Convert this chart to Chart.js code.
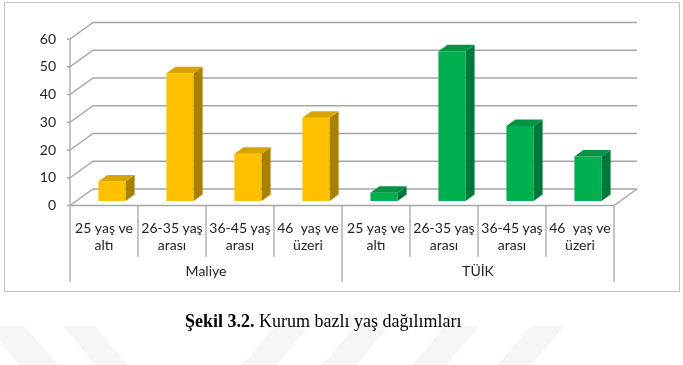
<!DOCTYPE html>
<html>
<head>
<meta charset="utf-8">
<script src="https://cdn.jsdelivr.net/npm/chart.js@4"></script>
<style>
  html, body { margin: 0; padding: 0; background: #fff; }
  #wrap { position: relative; width: 683px; height: 365px; overflow: hidden; }
  #frame { position: absolute; left: 4px; top: 2px; width: 676px; height: 290px; border: 1px solid #c4c4c4; box-sizing: border-box; }
  canvas { position: absolute; left: 0; top: 0; }
  .stripe { position: absolute; top: 326px; height: 60px; background: #f5f5f5; }
  #caption { position: absolute; left: 185px; top: 311px; white-space: nowrap; font: 18px "Liberation Serif", serif; color: #000; }
</style>
</head>
<body>
<div id="wrap">
  <div class="stripe" style="left:12px;width:38px;transform:skewX(40deg);"></div>
  <div class="stripe" style="left:88px;width:32px;transform:skewX(40deg);"></div>
  <div class="stripe" style="left:250px;width:34px;transform:skewX(-40deg);"></div>
  <div class="stripe" style="left:330px;width:34px;transform:skewX(-40deg);"></div>
  <div class="stripe" style="left:420px;width:34px;transform:skewX(-40deg);"></div>
  <div class="stripe" style="left:505px;width:34px;transform:skewX(-40deg);"></div>
  <div id="frame"></div>
  <canvas id="ageChart" width="683" height="365"></canvas>
  <div id="caption"><b>Şekil 3.2.</b> Kurum bazlı yaş dağılımları</div>
</div>
<script>
const ageGroups = [['25 yaş ve', 'altı'], ['26-35 yaş', 'arası'], ['36-45 yaş', 'arası'], ['46  yaş ve', 'üzeri']];
const institutions = ['Maliye', 'TÜİK'];
const maliyeValues = [7, 46, 17, 30];
const tuikValues = [3, 54, 27, 16];
const yTicks = [0, 10, 20, 30, 40, 50, 60];

const labels = institutions.flatMap(() => ageGroups);
const empty = ageGroups.map(() => null);

// 3d look: back wall offset, bar offset and bar depth
const DEPTH = { x: 23, y: -16.5 };
const BAR_SHIFT = { x: 8, y: -4.5 };
const BAR_DEPTH = { x: 9, y: -6.5 };
const shades = [
  { side: '#A98000', top: '#D9A400' },
  { side: '#00783A', top: '#009444' }
];
const lineColor = '#a6a6a6';
const textColor = '#222';

const threeD = {
  id: 'threeD',
  beforeDatasetsDraw(chart) {
    const ctx = chart.ctx;
    const { left, right, top, bottom } = chart.chartArea;
    const y = chart.scales.y;
    const x = chart.scales.x;
    ctx.save();
    ctx.strokeStyle = lineColor;
    ctx.lineWidth = 1.3;
    // back wall gridlines + left wall diagonals
    yTicks.forEach(v => {
      const py = y.getPixelForValue(v);
      ctx.beginPath();
      ctx.moveTo(left - 3, py);
      ctx.lineTo(left, py);
      ctx.lineTo(left + DEPTH.x, py + DEPTH.y);
      ctx.lineTo(right + DEPTH.x, py + DEPTH.y);
      ctx.stroke();
    });
    // floor front edge and right edge
    ctx.beginPath();
    ctx.moveTo(left, bottom);
    ctx.lineTo(right, bottom);
    ctx.lineTo(right + DEPTH.x, bottom + DEPTH.y);
    ctx.stroke();
    // front vertical axis
    ctx.beginPath();
    ctx.moveTo(left, top);
    ctx.lineTo(left, 282);
    ctx.stroke();
    // category table separators
    const n = labels.length;
    const w = (right - left) / n;
    for (let i = 1; i <= n; i++) {
      const px = left + i * w;
      const groupEdge = i % ageGroups.length === 0;
      ctx.beginPath();
      ctx.moveTo(px, bottom);
      ctx.lineTo(px, groupEdge ? 282 : 257);
      ctx.stroke();
    }
    // group labels
    ctx.fillStyle = textColor;
    ctx.font = '14px Lato';
    ctx.textAlign = 'center';
    ctx.textBaseline = 'middle';
    institutions.forEach((name, g) => {
      const a = x.getPixelForValue(g * ageGroups.length) - w / 2;
      const b = x.getPixelForValue((g + 1) * ageGroups.length - 1) + w / 2;
      ctx.fillText(name, (a + b) / 2, 271);
    });
    ctx.restore();
    ctx.save();
    ctx.translate(BAR_SHIFT.x, BAR_SHIFT.y);
  },
  afterDatasetsDraw(chart) {
    const ctx = chart.ctx;
    chart.data.datasets.forEach((ds, di) => {
      const meta = chart.getDatasetMeta(di);
      meta.data.forEach((el, i) => {
        if (ds.data[i] == null) return;
        const { x, y, base, width } = el.getProps(['x', 'y', 'base', 'width'], true);
        const l = x - width / 2, r = x + width / 2;
        ctx.fillStyle = shades[di].side;
        ctx.beginPath();
        ctx.moveTo(r, y);
        ctx.lineTo(r + BAR_DEPTH.x, y + BAR_DEPTH.y);
        ctx.lineTo(r + BAR_DEPTH.x, base + BAR_DEPTH.y);
        ctx.lineTo(r, base);
        ctx.closePath();
        ctx.fill();
        ctx.fillStyle = shades[di].top;
        ctx.beginPath();
        ctx.moveTo(l, y);
        ctx.lineTo(l + BAR_DEPTH.x, y + BAR_DEPTH.y);
        ctx.lineTo(r + BAR_DEPTH.x, y + BAR_DEPTH.y);
        ctx.lineTo(r, y);
        ctx.closePath();
        ctx.fill();
      });
    });
    ctx.restore();
  }
};

new Chart(document.getElementById('ageChart'), {
  type: 'bar',
  data: {
    labels: labels,
    datasets: [
      { label: institutions[0], data: maliyeValues.concat(empty), backgroundColor: '#FFC000' },
      { label: institutions[1], data: empty.concat(tuikValues), backgroundColor: '#00B050' }
    ]
  },
  options: {
    responsive: false,
    animation: false,
    layout: { padding: { left: 30, right: 69, top: 39, bottom: 74.5 } },
    datasets: { bar: { grouped: false, barPercentage: 0.4, categoryPercentage: 1, borderWidth: 0 } },
    plugins: { legend: { display: false }, tooltip: { enabled: false } },
    scales: {
      x: {
        offset: true,
        grid: { display: false },
        border: { display: false },
        ticks: { color: textColor, font: { family: 'Lato', size: 14, lineHeight: 1.2 }, padding: 7, maxRotation: 0, autoSkip: false },
        afterFit: s => { s.height = 85; }
      },
      y: {
        min: 0,
        max: 60,
        grid: { display: false, drawTicks: false },
        border: { display: false },
        ticks: { stepSize: 10, color: textColor, font: { family: 'Lato', size: 14 }, padding: 14 },
        afterFit: s => { s.width = 40; }
      }
    }
  },
  plugins: [threeD]
});
</script>
</body>
</html>
